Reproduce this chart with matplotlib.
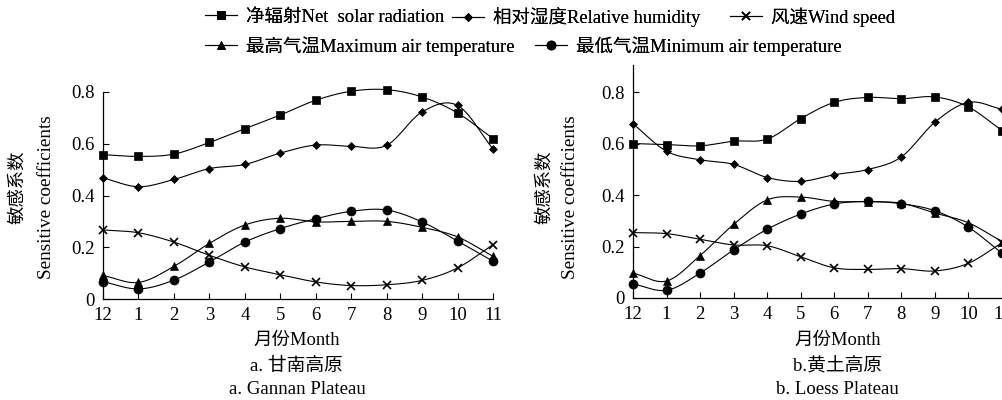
import matplotlib
matplotlib.use("Agg")
import matplotlib.pyplot as plt
import numpy as np
from matplotlib.lines import Line2D

plt.rcParams["font.family"] = ["Liberation Serif", "Noto Sans CJK SC"]

months = ["12", "1", "2", "3", "4", "5", "6", "7", "8", "9", "10", "11"]

# a. Gannan Plateau
gn_net = [0.558, 0.551, 0.560, 0.605, 0.658, 0.711, 0.768, 0.803, 0.809, 0.781, 0.719, 0.620]
gn_rh = [0.468, 0.434, 0.462, 0.504, 0.520, 0.564, 0.595, 0.590, 0.594, 0.723, 0.748, 0.580]
gn_wind = [0.267, 0.256, 0.220, 0.169, 0.124, 0.094, 0.066, 0.052, 0.055, 0.072, 0.120, 0.210]
gn_tmax = [0.091, 0.064, 0.126, 0.215, 0.286, 0.312, 0.298, 0.300, 0.300, 0.277, 0.240, 0.165]
gn_tmin = [0.067, 0.039, 0.073, 0.143, 0.220, 0.272, 0.310, 0.339, 0.344, 0.298, 0.224, 0.146]

# b. Loess Plateau
lp_net = [0.600, 0.596, 0.591, 0.609, 0.617, 0.697, 0.760, 0.779, 0.774, 0.781, 0.742, 0.650]
lp_rh = [0.677, 0.570, 0.537, 0.519, 0.468, 0.453, 0.479, 0.499, 0.548, 0.683, 0.760, 0.733]
lp_wind = [0.254, 0.250, 0.228, 0.206, 0.203, 0.160, 0.117, 0.111, 0.114, 0.105, 0.135, 0.215]
lp_tmax = [0.097, 0.066, 0.165, 0.286, 0.381, 0.392, 0.375, 0.374, 0.368, 0.330, 0.292, 0.219]
lp_tmin = [0.055, 0.030, 0.097, 0.187, 0.267, 0.326, 0.365, 0.375, 0.366, 0.339, 0.275, 0.174]

labels = ["净辐射Net  solar radiation", "相对湿度Relative humidity", "风速Wind speed",
          "最高气温Maximum air temperature", "最低气温Minimum air temperature"]
markers = ["s", "D", "x", "^", "o"]
msizes = [5.5, 4.5, 5.5, 6, 6.5]


def smooth(y, n=20):
    # Catmull-Rom curve through the points, only for drawing the line
    y = np.asarray(y, float)
    p = np.concatenate([[2 * y[0] - y[1]], y, [2 * y[-1] - y[-2]]])
    xs, ys = [], []
    t = np.linspace(0, 1, n, endpoint=False)
    for i in range(1, len(p) - 2):
        p0, p1, p2, p3 = p[i - 1], p[i], p[i + 1], p[i + 2]
        seg = 0.5 * (2 * p1 + (-p0 + p2) * t + (2 * p0 - 5 * p1 + 4 * p2 - p3) * t ** 2
                     + (-p0 + 3 * p1 - 3 * p2 + p3) * t ** 3)
        xs.extend(i - 1 + t)
        ys.extend(seg)
    xs.append(len(y) - 1)
    ys.append(y[-1])
    return np.array(xs), np.array(ys)


def draw(ax, series, ymax, yticks):
    x = np.arange(len(months))
    for s, m, ms in zip(series, markers, msizes):
        sx, sy = smooth(s)
        ax.plot(sx, sy, color="black", lw=0.8, clip_on=False)
        ax.plot(x, s, ls="none", marker=m, ms=ms, color="black",
                mew=1.2 if m == "x" else 0.5, clip_on=False)
    ax.set_xlim(0, len(months) - 1)
    ax.set_ylim(0, ymax)
    ax.set_xticks(x)
    ax.set_xticklabels(months)
    ax.set_yticks(yticks)
    ax.set_yticklabels(["0" if v == 0 else f"{v:.1f}" for v in yticks])
    ax.tick_params(direction="in", length=4, width=0.8, labelsize=13.5, pad=6)
    ax.spines["top"].set_visible(False)
    ax.spines["right"].set_visible(False)
    for sp in ("left", "bottom"):
        ax.spines[sp].set_linewidth(0.9)


fig = plt.figure(figsize=(10.03, 4.0), dpi=100)
ax1 = fig.add_axes([0.1027, 0.2525, 0.3888, 0.5175])
ax2 = fig.add_axes([0.6311, 0.255, 0.3679, 0.5825])

draw(ax1, [gn_net, gn_rh, gn_wind, gn_tmax, gn_tmin], 0.8, [0, 0.2, 0.4, 0.6, 0.8])
draw(ax2, [lp_net, lp_rh, lp_wind, lp_tmax, lp_tmin], 0.905, [0, 0.2, 0.4, 0.6, 0.8])

for xl, xs in [(0.018, 0.046), (0.543, 0.569)]:
    fig.text(xl, 0.532, "敏感系数", rotation=90, ha="center", va="center", fontsize=13.2)
    fig.text(xs, 0.507, "Sensitive coefficients", rotation=90, ha="center", va="center",
             fontsize=13.8)

for xc, t1, t2 in [(0.296, "a. 甘南高原", "a. Gannan Plateau"),
                   (0.835, "b.黄土高原", "b. Loess Plateau")]:
    fig.text(xc, 0.150, "月份Month", ha="center", va="center", fontsize=13.3)
    fig.text(xc, 0.085, t1, ha="center", va="center", fontsize=13.5)
    fig.text(xc, 0.027, t2, ha="center", va="center", fontsize=13.5)

# legend entries placed one by one, as in the reference layout
leg_pos = [(205, 0.957), (452, 0.957), (730, 0.957), (205, 0.885), (535, 0.885)]
for lab, m, ms, (px, py) in zip(labels, markers, msizes, leg_pos):
    h = Line2D([], [], color="black", lw=0.8, marker=m, ms=ms,
               mew=1.2 if m == "x" else 0.5)
    leg = fig.legend([h], [lab], frameon=False, fontsize=13.3, handlelength=1.75,
                     handletextpad=0.45, borderaxespad=0, borderpad=0,
                     loc="center left", bbox_to_anchor=(px / 1003, py))
    fig.add_artist(leg)

fig.savefig("out.png", dpi=100)
